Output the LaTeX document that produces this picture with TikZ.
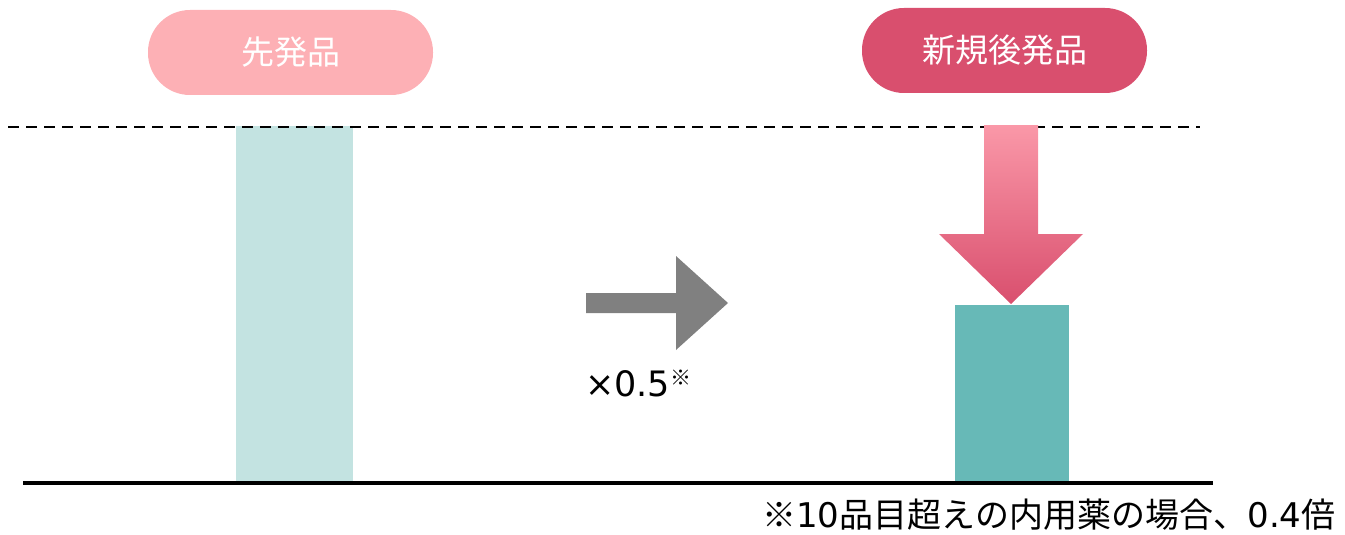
\documentclass[tikz,border=0pt]{standalone}
\usepackage{fontspec}
\setmainfont{DejaVu Sans}
\newfontfamily\jp{Noto Sans CJK JP}
\newfontfamily\dv{DejaVu Sans}
\definecolor{pillA}{HTML}{FDB0B5}
\definecolor{pillB}{HTML}{D94F6E}
\definecolor{barA}{HTML}{C3E3E1}
\definecolor{barB}{HTML}{67B9B7}
\definecolor{arrowTop}{HTML}{FA98A8}
\definecolor{grayArrow}{HTML}{808080}
\tikzset{
  pill/.style={rectangle, rounded corners=42pt, minimum width=285pt, minimum height=85pt, inner sep=0pt, text=white, font=\jp\fontsize{33}{38}\selectfont},
  barbox/.style={rectangle, inner sep=0pt, anchor=south west},
}
\begin{document}
\begin{tikzpicture}[x=1pt,y=-1pt]
\useasboundingbox (0,0) rectangle (1345,535);
% pills
\node[pill, fill=pillA] (p1) at (290.5,52.5) {先発品};
\node[pill, fill=pillB] (p2) at (1004.5,50.5) {新規後発品};
% bars
\node[barbox, fill=barA, minimum width=117pt, minimum height=356pt] (b1) at (236,482) {};
\node[barbox, fill=barB, minimum width=114pt, minimum height=177pt] (b2) at (955,482) {};
% dashed line
\coordinate (dl) at (8,127);
\coordinate (dr) at (1200,127);
\draw[line width=2.4pt, dash pattern=on 11pt off 7pt] (dl) -- (dr);
% baseline
\coordinate (gl) at (23,483);
\coordinate (gr) at (1213,483);
\draw[line width=4pt] (gl) -- (gr);
% down arrow
\shade[top color=arrowTop, bottom color=pillB] (984,125) -- (1038,125) -- (1038,234) -- (1083,234) -- (1011,304) -- (939,234) -- (984,234) -- cycle;
% right arrow
\fill[grayArrow] (586,293) -- (676,293) -- (676,256) -- (728,303) -- (676,350) -- (676,313) -- (586,313) -- cycle;
% labels
\node[anchor=base west, inner sep=0pt, font=\dv\fontsize{35}{40}\selectfont] (mul) at (585,396) {×0.5\raisebox{11pt}{\jp\fontsize{21}{24}\selectfont ※}};
\node[anchor=base west, inner sep=0pt, font=\jp\fontsize{34}{40}\selectfont] (note) at (762,527) {※{\dv 10}品目超えの内用薬の場合、{\dv 0.4}倍};
\end{tikzpicture}
\end{document}
